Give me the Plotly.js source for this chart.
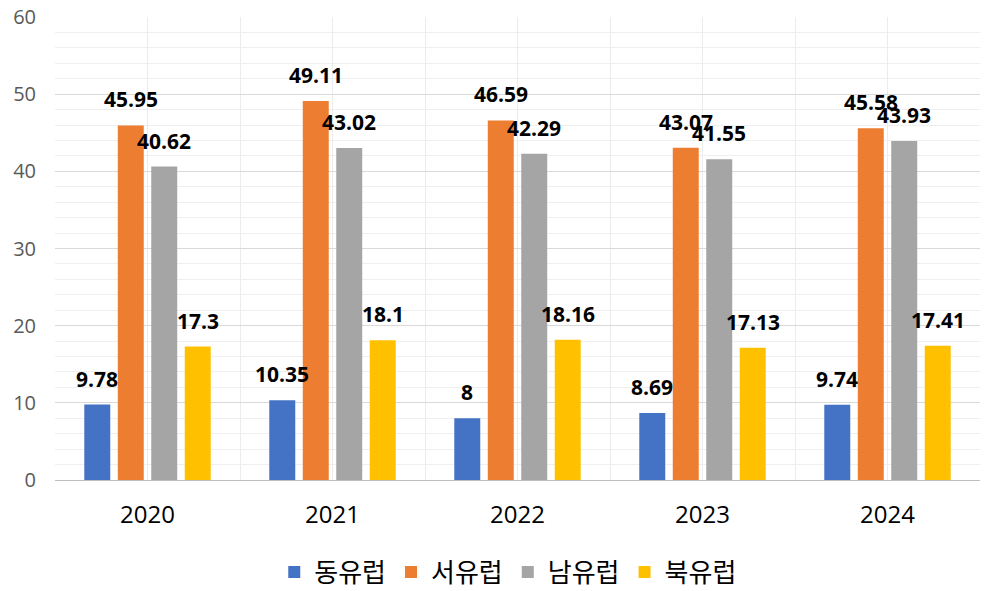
<!DOCTYPE html>
<html>
<head>
<meta charset="utf-8">
<script src="https://cdn.plot.ly/plotly-3.0.1.min.js"></script>
<style>
  html, body { margin: 0; padding: 0; background: #fff; }
  #chart { width: 1000px; height: 591px; }
</style>
</head>
<body>
<div id="chart"></div>
<script>
const YEARS = [2020, 2021, 2022, 2023, 2024];
const SERIES_NAMES = ["동유럽", "서유럽", "남유럽", "북유럽"];
const EAST = [9.78, 10.35, 8, 8.69, 9.74];
const WEST = [45.95, 49.11, 46.59, 43.07, 45.58];
const SOUTH = [40.62, 43.02, 42.29, 41.55, 43.93];
const NORTH = [17.3, 18.1, 18.16, 17.13, 17.41];
const COLORS = ["#4472C4", "#ED7D31", "#A5A5A5", "#FFC000"];

const BAR_GAP = 0.276;
const BAR_GROUP_GAP = 0.224;
const LABEL_FONT = "Open Sans, Noto Sans, sans-serif";

const values = [EAST, WEST, SOUTH, NORTH];

const traces = values.map((ys, k) => ({
  type: "bar",
  name: SERIES_NAMES[k],
  x: YEARS,
  y: ys,
  marker: { color: COLORS[k] },
  hoverinfo: "skip"
}));

// labels sit a bit higher than plotly's "outside" text, so use annotations
const slot = (1 - BAR_GAP) / values.length;
const annotations = [];
values.forEach((ys, k) => {
  const offset = (k - (values.length - 1) / 2) * slot;
  ys.forEach((v, i) => {
    annotations.push({
      x: YEARS[i] + offset,
      y: v,
      xref: "x",
      yref: "y",
      text: String(v),
      showarrow: false,
      yanchor: "bottom",
      yshift: 10,
      font: { family: LABEL_FONT, size: 21, color: "#000", weight: "bold" }
    });
  });
});

const layout = {
  width: 1000,
  height: 591,
  margin: { l: 55, r: 20, t: 17, b: 111 },
  paper_bgcolor: "#fff",
  plot_bgcolor: "#fff",
  barmode: "group",
  bargap: BAR_GAP,
  bargroupgap: BAR_GROUP_GAP,
  showlegend: true,
  legend: {
    orientation: "h",
    x: 0.49,
    xanchor: "center",
    xref: "paper",
    yref: "container",
    y: 0.032,
    yanchor: "middle",
    itemgap: 10,
    font: { family: "Noto Sans CJK KR, sans-serif", size: 26, color: "#000" },
    itemclick: false
  },
  xaxis: {
    range: [2019.5, 2024.5],
    tickvals: YEARS,
    ticktext: YEARS.map(String),
    showgrid: true,
    gridcolor: "#ececec",
    minor: { tick0: 2019.5, dtick: 1, showgrid: true, gridcolor: "#ececec" },
    zeroline: false,
    showline: false,
    ticks: "",
    ticklabelstandoff: 18,
    tickfont: { family: "Open Sans, sans-serif", size: 24, color: "#000" },
    fixedrange: true
  },
  yaxis: {
    range: [0, 60],
    dtick: 10,
    showgrid: true,
    gridcolor: "#d9d9d9",
    minor: { dtick: 2, showgrid: true, gridcolor: "#efefef" },
    zeroline: true,
    zerolinecolor: "#bfbfbf",
    zerolinewidth: 1,
    showline: false,
    ticks: "",
    ticklabelstandoff: 18,
    tickfont: { family: "Open Sans, sans-serif", size: 20, color: "#595959" },
    fixedrange: true
  },
  annotations: annotations
};

Plotly.newPlot("chart", traces, layout, { displayModeBar: false, staticPlot: true });
</script>
</body>
</html>
